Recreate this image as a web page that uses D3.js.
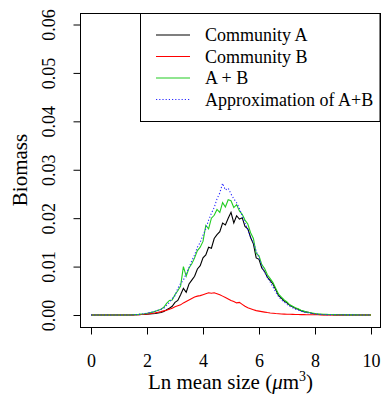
<!DOCTYPE html>
<html>
<head>
<meta charset="utf-8">
<script src="https://cdn.jsdelivr.net/npm/d3@7/dist/d3.min.js"></script>
<style>
  html, body { margin: 0; padding: 0; background: #fff; }
  svg { display: block; }
  text { font-family: "Liberation Serif", "Times New Roman", serif; fill: #000; }
</style>
</head>
<body>
<svg id="chart" width="382" height="395"></svg>
<script>
// Ln mean size grid (0 to 10, step 0.1)
const sizes = d3.range(101).map(i => i / 10);

// Community A biomass
const communityA = [
  0, 0, 0, 0, 0, 0, 0, 0, 0, 0, 0, 0, 0, 0, 0,
  0.00002, 0.00004, 0.00006, 0.0001, 0.00012, 0.00016, 0.0002, 0.00025, 0.0003, 0.0004,
  0.0005, 0.0007, 0.0011, 0.0014, 0.0018, 0.0026, 0.0030, 0.0042, 0.0055, 0.0047,
  0.0064, 0.0072, 0.0080, 0.0095, 0.0102, 0.0118, 0.0124, 0.0140, 0.0138, 0.0158,
  0.0166, 0.0172, 0.0190, 0.0186, 0.0200, 0.0212, 0.0190, 0.0205, 0.0198, 0.0201,
  0.0183, 0.0178, 0.0160, 0.0147, 0.0118, 0.0115, 0.0097, 0.0090, 0.0078, 0.0071,
  0.0064, 0.0052, 0.0040, 0.0035, 0.0029, 0.0025, 0.0020, 0.0017, 0.0014, 0.0012,
  0.0009, 0.0007, 0.0006, 0.0005, 0.0003, 0.0002, 0.00015, 0.0001, 0.00008, 0.00006,
  0.00005, 0.00004, 0.00003, 0.00003, 0.00002, 0.00002,
  0.00001, 0.00001, 0.00001, 0.00001, 0.00001, 0.00001, 0.00001, 0.00001, 0.00001, 0
];

// Community B biomass
const communityB = [
  0, 0, 0, 0, 0, 0, 0, 0, 0, 0, 0, 0, 0, 0, 0,
  0.00002, 0.00004, 0.00006, 0.0001, 0.00014, 0.0002, 0.00028, 0.00036, 0.00046, 0.00058,
  0.0007, 0.00085, 0.001, 0.0012, 0.0014, 0.0017, 0.0019, 0.0021, 0.0025, 0.0028,
  0.0031, 0.0034, 0.0037, 0.0039, 0.0040, 0.0042, 0.0044, 0.0046, 0.0045, 0.0046,
  0.0044, 0.0042, 0.0039, 0.0036, 0.0033, 0.0030, 0.0028, 0.0025, 0.0026, 0.0022,
  0.0018, 0.0015, 0.0013, 0.0011, 0.0009, 0.0008, 0.0007, 0.0006, 0.0005, 0.00042,
  0.00036, 0.0003, 0.00026, 0.00022, 0.00019, 0.00016, 0.00014, 0.00012, 0.0001, 0.00009,
  0.00008, 0.00007, 0.00006, 0.00005, 0.00005, 0.00004, 0.00004, 0.00003, 0.00003, 0.00003,
  0.00002, 0.00002, 0.00002, 0.00002, 0.00001, 0.00001,
  0.00001, 0.00001, 0.00001, 0.00001, 0, 0, 0, 0, 0, 0
];

// Combined community A + B
const communityAB = [
  0, 0, 0, 0, 0, 0, 0, 0, 0, 0, 0, 0, 0, 0, 0,
  0.00004, 0.00008, 0.00012, 0.0002, 0.00026, 0.00036, 0.00048, 0.0006, 0.00076, 0.001,
  0.0012, 0.0016, 0.0024, 0.0030, 0.0031, 0.0042, 0.0050, 0.0060, 0.0100, 0.0080,
  0.0097, 0.0106, 0.0118, 0.0133, 0.0140, 0.0152, 0.0185, 0.0178, 0.0200, 0.0206,
  0.0218, 0.0212, 0.0232, 0.0223, 0.0238, 0.0236, 0.0222, 0.0228, 0.0215, 0.0208,
  0.0196, 0.0188, 0.0170, 0.0158, 0.0127, 0.0122, 0.0104, 0.0096, 0.0083, 0.0075,
  0.0067, 0.0055, 0.0043, 0.0037, 0.0031, 0.0027, 0.0021, 0.0018, 0.0015, 0.0013,
  0.0010, 0.0008, 0.0006, 0.0005, 0.0004, 0.0003, 0.0002, 0.00018, 0.00015, 0.00012,
  0.0001, 0.00009, 0.00008, 0.00006, 0.00005, 0.00004,
  0.00003, 0.00003, 0.00002, 0.00002, 0.00002, 0.00001, 0.00001, 0.00001, 0.00001, 0.00001
];

// Approximation of A + B
const approxAB = [
  0, 0, 0, 0, 0, 0, 0, 0, 0, 0, 0, 0, 0, 0, 0,
  0.00004, 0.00008, 0.00012, 0.0002, 0.00028, 0.00038, 0.0005, 0.00064, 0.0008, 0.001,
  0.0012, 0.0014, 0.0020, 0.0026, 0.0034, 0.0040, 0.0055, 0.0065, 0.0072, 0.0086,
  0.0098, 0.0112, 0.0124, 0.0140, 0.0150, 0.0165, 0.0178, 0.0196, 0.0210, 0.0222,
  0.0240, 0.0252, 0.0272, 0.0258, 0.0262, 0.0250, 0.0240, 0.0232, 0.0220, 0.0205,
  0.0190, 0.0176, 0.0160, 0.0150, 0.0132, 0.0118, 0.0102, 0.0088, 0.0077, 0.0068,
  0.0058, 0.0047, 0.0038, 0.0031, 0.0027, 0.0022, 0.0018, 0.0015, 0.0012, 0.0010,
  0.0008, 0.0006, 0.0005, 0.0004, 0.0003, 0.0002, 0.00016, 0.00012, 0.0001, 0.00008,
  0.00007, 0.00006, 0.00005, 0.00004, 0.00004, 0.00003,
  0.00003, 0.00002, 0.00002, 0.00002, 0.00001, 0.00001, 0.00001, 0.00001, 0.00001, 0.00001
];

const xTicks = [0, 2, 4, 6, 8, 10];
const yTicks = [0, 0.01, 0.02, 0.03, 0.04, 0.05, 0.06];

const seriesNames = ["Community A", "Community B", "A + B", "Approximation of A+B"];
const seriesColors = ["#000000", "#ff0000", "#22cc22", "#2a2aff"];
const seriesDash = [null, null, null, "1.2,2"];
const seriesValues = [communityA, communityB, communityAB, approxAB];

const svg = d3.select("#chart");
const box = { left: 80, right: 381, top: 13, bottom: 327 };

const x = d3.scaleLinear().domain([0, 10]).range([91, 371]);
const y = d3.scaleLinear().domain([0, 0.06]).range([315, 24.5]);

// plot frame
svg.append("rect")
  .attr("x", box.left + 0.5).attr("y", box.top + 0.5)
  .attr("width", box.right - box.left - 1).attr("height", box.bottom - box.top)
  .attr("fill", "none").attr("stroke", "#000").attr("stroke-width", 1);

// x axis
const xAxis = d3.axisBottom(x).tickValues(xTicks).tickSize(7).tickPadding(22)
  .tickFormat(d3.format("d"));
const gx = svg.append("g").attr("transform", `translate(0,${box.bottom + 0.5})`).call(xAxis);
gx.select(".domain").remove();
gx.selectAll("text").style("font-size", "18px").attr("dy", 0).attr("y", 39.5);

// y axis
const yAxis = d3.axisLeft(y).tickValues(yTicks).tickSize(7).tickFormat(d3.format(".2f"));
const gy = svg.append("g").attr("transform", `translate(${box.left + 0.5},0)`).call(yAxis);
gy.select(".domain").remove();
gy.selectAll(".tick text")
  .style("font-size", "18px")
  .attr("x", null).attr("dy", null)
  .attr("transform", "translate(-25.5,0) rotate(-90)")
  .attr("text-anchor", "middle");

// axis titles
svg.append("text")
  .attr("x", (box.left + box.right) / 2).attr("y", 389)
  .attr("text-anchor", "middle").style("font-size", "21px")
  .call(t => {
    t.append("tspan").text("Ln mean size (");
    t.append("tspan").style("font-style", "italic").text("\u03bc");
    t.append("tspan").text("m");
    t.append("tspan").attr("dy", -8).style("font-size", "14px").text("3");
    t.append("tspan").attr("dy", 8).text(")");
  });

svg.append("text")
  .attr("transform", `translate(27,${(box.top + box.bottom) / 2}) rotate(-90)`)
  .attr("text-anchor", "middle").style("font-size", "21px")
  .text("Biomass");

// curves
const line = d3.line().x((d, i) => x(sizes[i])).y(d => y(d));
seriesValues.forEach((vals, k) => {
  svg.append("path")
    .datum(vals)
    .attr("d", line)
    .attr("fill", "none")
    .attr("stroke", seriesColors[k])
    .attr("stroke-width", 1.1)
    .attr("stroke-dasharray", seriesDash[k]);
});

// legend
const lg = svg.append("g");
lg.append("rect")
  .attr("x", 140.5).attr("y", box.top + 0.5)
  .attr("width", box.right - 141.5).attr("height", 108)
  .attr("fill", "#fff").attr("stroke", "#000");
seriesNames.forEach((name, k) => {
  const cy = 35 + k * 21.5;
  lg.append("line")
    .attr("x1", 156).attr("x2", 190).attr("y1", cy).attr("y2", cy)
    .attr("stroke", seriesColors[k]).attr("stroke-width", 1.1)
    .attr("stroke-dasharray", seriesDash[k]);
  lg.append("text")
    .attr("x", 205).attr("y", cy + 6)
    .style("font-size", "18px")
    .text(name);
});
</script>
</body>
</html>
